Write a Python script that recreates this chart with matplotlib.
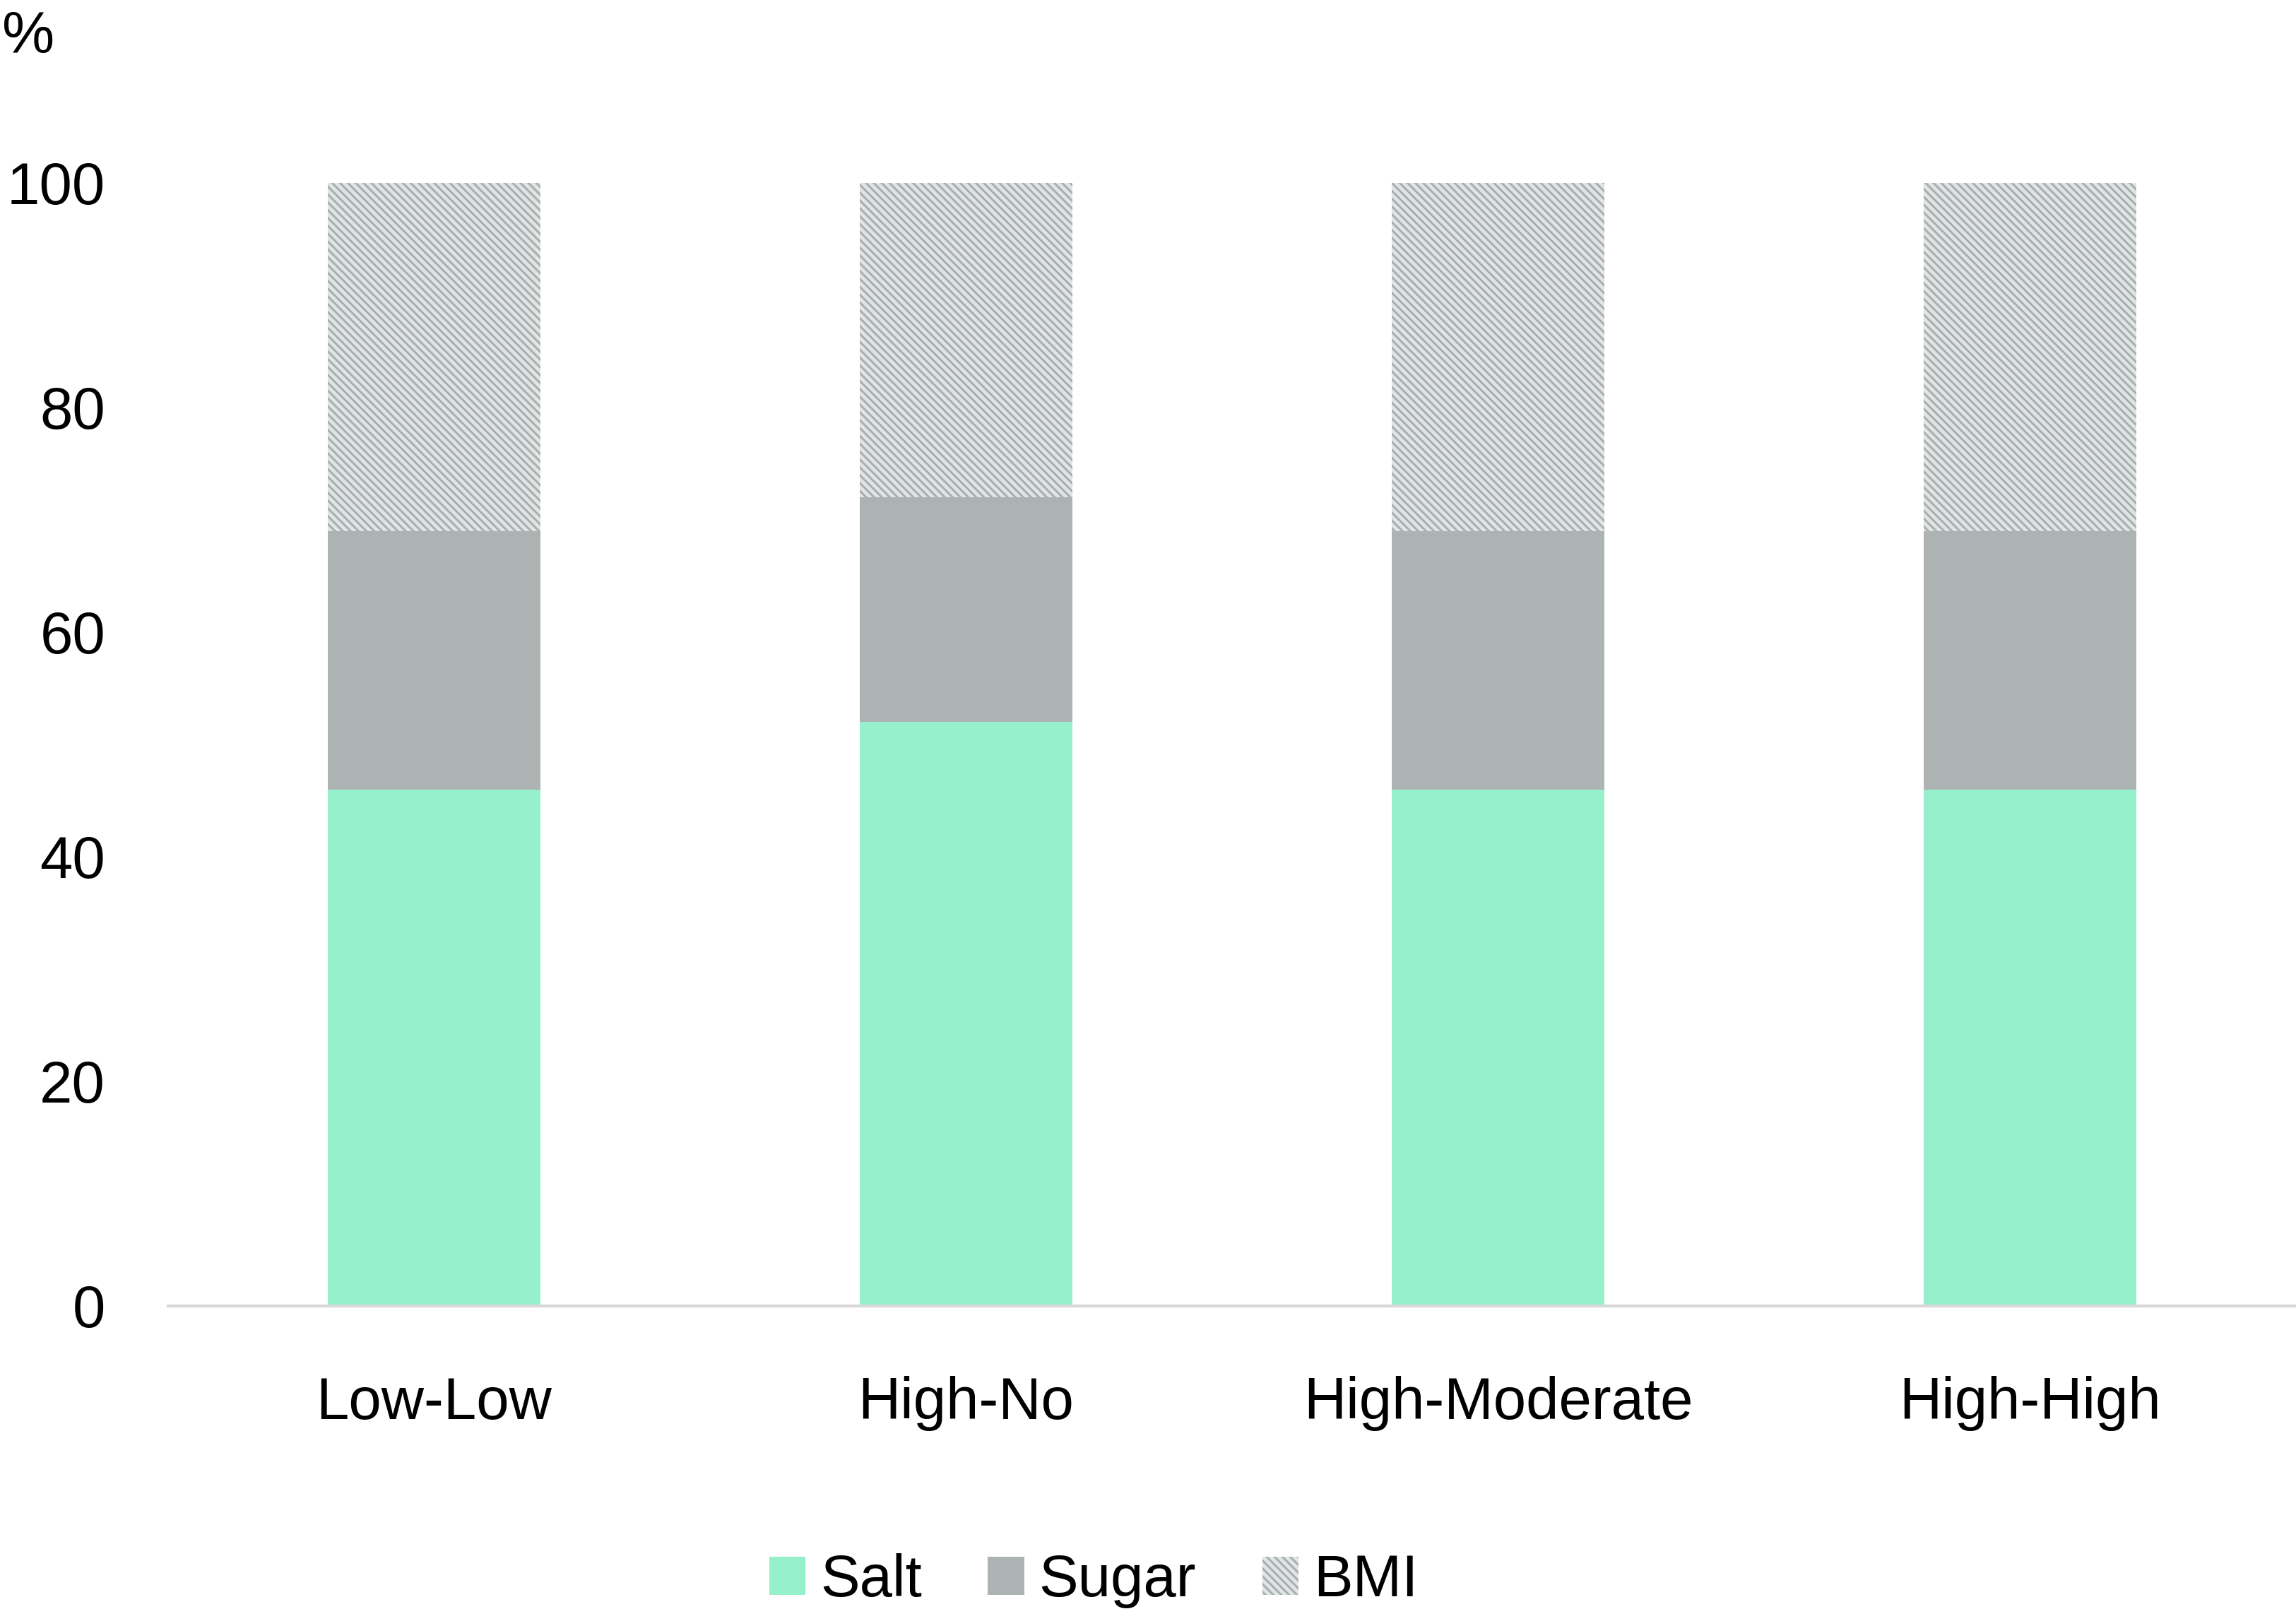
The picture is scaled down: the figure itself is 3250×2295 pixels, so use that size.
import numpy as np
import matplotlib
matplotlib.use('Agg')
import matplotlib.pyplot as plt

plt.rcParams['font.family'] = ['Liberation Sans', 'DejaVu Sans']
plt.rcParams['hatch.color'] = '#a9afaf'
plt.rcParams['hatch.linewidth'] = 2.2

# data
groups = ['Low-Low', 'High-No', 'High-Moderate', 'High-High']
salt = [46, 52, 46, 46]
sugar = [23, 20, 23, 23]
bmi = [31, 28, 31, 31]

fig = plt.figure(figsize=(32.5, 22.95), dpi=100)
ax = fig.add_axes([238/3250, 1 - 1849/2295, 1 - 238/3250, (1849 - 259)/2295])

x = np.arange(len(groups))
w = 0.40
b1 = ax.bar(x, salt, w, color='#96f0cc', label='Salt')
b2 = ax.bar(x, sugar, w, bottom=salt, color='#adb3b3', label='Sugar')
base3 = np.array(salt) + np.array(sugar)
b3 = ax.bar(x, bmi, w, bottom=base3, color='#e1e5e5', hatch='\\\\\\', label='BMI')

ax.set_xlim(-0.5, len(groups) - 0.5)
ax.set_ylim(0, 100)
ax.set_yticks([0, 20, 40, 60, 80, 100])
ax.set_xticks(x)
ax.set_xticklabels(groups)
ax.tick_params(axis='both', length=0, labelsize=60)
ax.tick_params(axis='y', pad=64)
ax.tick_params(axis='x', pad=71)

for s in ['top', 'right', 'left']:
    ax.spines[s].set_visible(False)
ax.spines['bottom'].set_color('#d9d9d9')
ax.spines['bottom'].set_linewidth(3)

fig.text(0.001, 1 - 14/2295, '%', fontsize=60, va='top', ha='left')

fig.legend(handles=[b1, b2, b3], loc='center', bbox_to_anchor=(1548/3250, 1 - 2238/2295),
           ncol=3, frameon=False, fontsize=60, handlelength=0.62, handleheight=0.62,
           handletextpad=0.25, columnspacing=1.12)

fig.savefig('out.png', dpi=100)
